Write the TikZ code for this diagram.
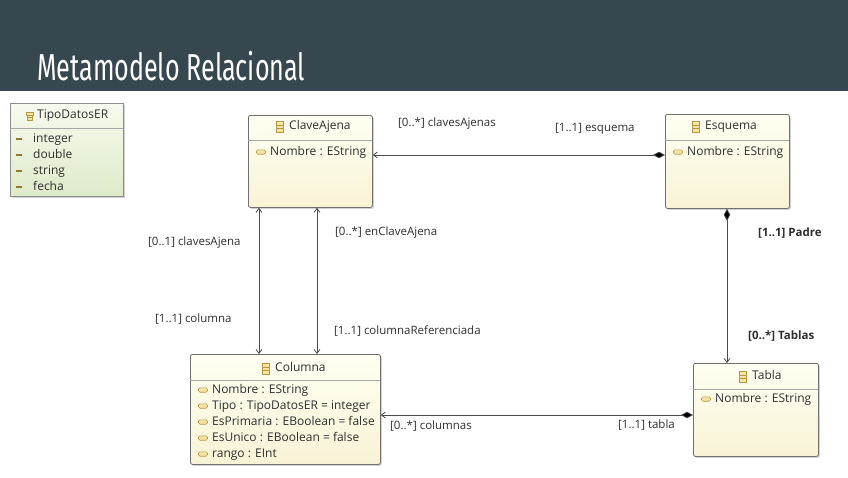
\documentclass[tikz,border=0pt]{standalone}
\usepackage{fontspec}
\setmainfont{Open Sans}
\newfontfamily\titlefont[FakeStretch=0.67]{Fira Sans}
\usetikzlibrary{arrows.meta,calc,shadows}
\definecolor{hdr}{HTML}{37474F}
\definecolor{edgec}{HTML}{4A4A4A}
\definecolor{boxline}{HTML}{707070}
\definecolor{txt}{HTML}{2E2E2E}
\definecolor{iconc}{HTML}{B8963C}
\definecolor{iconf}{HTML}{F3E3A6}
\definecolor{clstop}{HTML}{FFFFF2}
\definecolor{clsbot}{HTML}{F8F3D6}
\definecolor{enumtop}{HTML}{F7FAEE}
\definecolor{enumbot}{HTML}{DDEAC9}
\newcommand\clsicon[1]{\begin{scope}[shift={(#1)}]
  \draw[iconc,fill=iconf,line width=0.7pt] (-3.5,-5.5) rectangle (3.5,5.5);
  \draw[iconc,line width=0.7pt] (-3.5,-1.8) -- (3.5,-1.8) (-3.5,1.8) -- (3.5,1.8);
\end{scope}}
\newcommand\attricon[1]{\begin{scope}[shift={(#1)}]
  \draw[iconc,fill=iconf,line width=0.6pt,rounded corners=1.5pt] (-4.5,-2.2) rectangle (4.5,2.2);
\end{scope}}
\newcommand\liticon[1]{\begin{scope}[shift={(#1)}]
  \draw[iconc!80!black,line width=1.6pt] (-3,0) -- (3,0);
\end{scope}}
\newcommand\enumicon[1]{\begin{scope}[shift={(#1)}]
  \draw[iconc,fill=iconf,line width=0.6pt] (-3.5,-4) rectangle (3.5,-1);
  \draw[iconc,fill=iconf,line width=0.6pt] (-2.5,-1) rectangle (2.5,4.5);
  \draw[iconc,line width=0.6pt] (-2.5,1.5) -- (2.5,1.5);
\end{scope}}
\tikzset{
  cls/.style={draw=boxline, line width=0.8pt, rounded corners=2pt,
    top color=clstop, bottom color=clsbot,
    drop shadow={shadow xshift=1.5pt, shadow yshift=-1.5pt, opacity=0.35, fill=gray},
    anchor=north west, inner sep=0pt},
  enumbox/.style={draw=boxline!80, line width=0.8pt,
    top color=enumtop, bottom color=enumbot,
    drop shadow={shadow xshift=1.5pt, shadow yshift=-1.5pt, opacity=0.35, fill=gray},
    anchor=north west, inner sep=0pt},
  sep/.style={draw=gray!70, line width=0.7pt},
  txtn/.style={anchor=west, inner sep=0pt, text=txt, text height=8.4pt, text depth=2.5pt,
    font=\fontsize{12}{14}\selectfont},
  lbl/.style={anchor=west, inner sep=0pt, text=txt, text height=8.2pt, text depth=2.4pt,
    font=\fontsize{11.5}{14}\selectfont},
  blbl/.style={lbl, font=\fontsize{11.5}{14}\selectfont\bfseries},
  assoc/.style={draw=edgec, line width=0.8pt},
  barb/.tip={Straight Barb[length=4pt,width=6pt,line width=0.8pt]},
  dia/.tip={Diamond[length=12pt,width=6.5pt,fill=black]}
}
\begin{document}
\begin{tikzpicture}[x=1pt,y=-1pt]
\useasboundingbox (0,0) rectangle (848,477);
\fill[white] (0,0) rectangle (848,477);
\fill[hdr] (0,0) rectangle (848,91);
\node[anchor=base west, inner sep=0pt, text=white, font=\titlefont\fontsize{37.5}{40}\selectfont] (title) at (37,80) {Metamodelo Relacional};

% enum TipoDatosER
\node[enumbox, minimum width=113pt, minimum height=93pt] (tipo) at (10,103) {};
\draw[sep] (10,128) -- (123,128);
\enumicon{30,116}
\node[txtn] (tipot) at (37,116) {TipoDatosER};
\liticon{19,139}\node[txtn] (l1) at (33,140) {integer};
\liticon{19,155}\node[txtn] (l2) at (33,156) {double};
\liticon{19,171}\node[txtn] (l3) at (33,172) {string};
\liticon{19,187}\node[txtn] (l4) at (33,188) {fecha};

% ClaveAjena
\node[cls, minimum width=124pt, minimum height=92pt] (clave) at (248,115) {};
\draw[sep] (248,140) -- (372,140);
\clsicon{280,127}
\node[txtn] (clavet) at (289,127) {ClaveAjena};
\attricon{261,152}\node[txtn] (clavea) at (270,153) {Nombre : EString};

% Esquema
\node[cls, minimum width=124pt, minimum height=94pt] (esq) at (665,114) {};
\draw[sep] (665,140) -- (789,140);
\clsicon{696,127}
\node[txtn] (esqt) at (705,127) {Esquema};
\attricon{678,152}\node[txtn] (esqa) at (687,153) {Nombre : EString};

% Columna
\node[cls, minimum width=190pt, minimum height=110pt] (col) at (190,354) {};
\draw[sep] (190,380) -- (380,380);
\clsicon{266,369}
\node[txtn] (colt) at (275,369) {Columna};
\attricon{203,390}\node[txtn] (c1) at (212,391) {Nombre : EString};
\attricon{203,406}\node[txtn] (c2) at (212,407) {Tipo : TipoDatosER = integer};
\attricon{203,422}\node[txtn] (c3) at (212,423) {EsPrimaria : EBoolean = false};
\attricon{203,438}\node[txtn] (c4) at (212,439) {EsUnico : EBoolean = false};
\attricon{203,454}\node[txtn] (c5) at (212,455) {rango : EInt};

% Tabla
\node[cls, minimum width=125pt, minimum height=93pt] (tabla) at (693,363) {};
\draw[sep] (693,389) -- (818,389);
\clsicon{743,377}
\node[txtn] (tablat) at (752,377) {Tabla};
\attricon{706,399}\node[txtn] (tablaa) at (715,400) {Nombre : EString};

% connectors
\draw[assoc, dia-barb] ($(esq.north west)+(0,41)$) -- ($(clave.north east)+(0,40)$);
\draw[assoc, dia-barb] ($(esq.south west)+(62,0)$) -- ($(tabla.north west)+(34,0)$);
\draw[assoc, dia-barb] ($(tabla.north west)+(0,52)$) -- ($(col.north east)+(0,61)$);
\draw[assoc, barb-barb] ($(clave.south west)+(11,0)$) -- ($(col.north west)+(69,0)$);
\draw[assoc, barb-barb] ($(clave.south west)+(69,0)$) -- ($(col.north west)+(127,0)$);

% labels
\node[lbl] (e1) at (398,124) {[0..*] clavesAjenas};
\node[lbl] (e2) at (555,129) {[1..1] esquema};
\node[blbl] (e3) at (758,234) {[1..1] Padre};
\node[blbl] (e4) at (748,337) {[0..*] Tablas};
\node[lbl] (e5) at (148,243) {[0..1] clavesAjena};
\node[lbl] (e6) at (155,320) {[1..1] columna};
\node[lbl] (e7) at (335,233) {[0..*] enClaveAjena};
\node[lbl] (e8) at (334,332) {[1..1] columnaReferenciada};
\node[lbl] (e9) at (390,427) {[0..*] columnas};
\node[lbl] (e10) at (618,426) {[1..1] tabla};
\end{tikzpicture}
\end{document}
